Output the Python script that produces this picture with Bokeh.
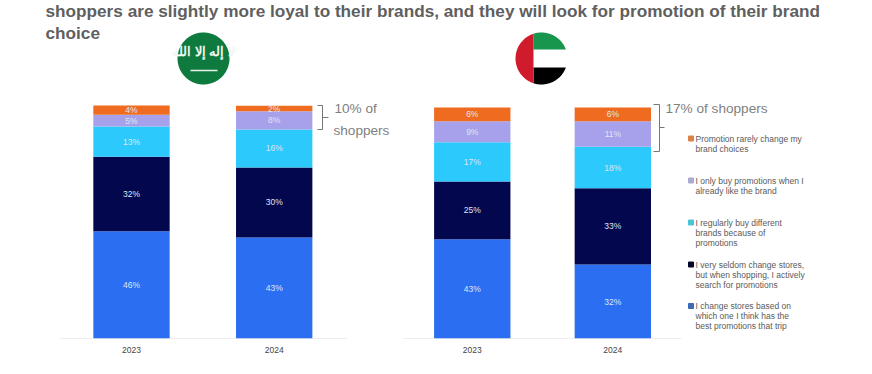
import numpy as np
from bokeh.core.properties import value
from bokeh.embed import file_html
from bokeh.models import ColumnDataSource, FixedTicker, Range1d
from bokeh.plotting import figure
from bokeh.resources import INLINE

# ---- data ----
years = ["2023", "2024"]
series_names = [
    "I change stores based on which one I think has the best promotions that trip",
    "I very seldom change stores, but when shopping, I actively search for promotions",
    "I regularly buy different brands because of promotions",
    "I only buy promotions when I already like the brand",
    "Promotion rarely change my brand choices",
]
sa_2023 = [46, 32, 13, 5, 4]
sa_2024 = [43.4, 30, 16.3, 7.8, 2.4]
uae_2023 = [43, 25, 17, 9, 6]
uae_2024 = [32, 33, 18, 11, 6]
sa_2023_labels = ["46%", "32%", "13%", "5%", "4%"]
sa_2024_labels = ["43%", "30%", "16%", "8%", "2%"]
uae_2023_labels = ["43%", "25%", "17%", "9%", "6%"]
uae_2024_labels = ["32%", "33%", "18%", "11%", "6%"]
colors = ["#2b6ef2", "#03074d", "#2cc9fc", "#a6a1ea", "#ee6b1f"]
swatch_colors = ["#3d6ab5", "#06062a", "#4cc4d8", "#ababd2", "#d9824a"]
title_lines = [
    "shoppers are slightly more loyal to their brands, and they will look for promotion of their brand",
    "choice",
]
legend_lines = [
    ["Promotion rarely change my", "brand choices"],
    ["I only buy promotions when I", "already like the brand"],
    ["I regularly buy different", "brands because of", "promotions"],
    ["I very seldom change stores,", "but when shopping, I actively", "search for promotions"],
    ["I change stores based on", "which one I think has the", "best promotions that trip"],
]

# ---- layout (reference pixels) ----
W, H = 872, 374
BASE = 338
UNIT = 142.7
X0 = 131
sa_slots = [0.0, 1.0]
uae_slots = [2.388, 3.373]
BAR = 0.535

p = figure(
    width=W, height=H, output_backend="svg", toolbar_location=None,
    x_range=Range1d(-X0 / UNIT, (W - X0) / UNIT),
    y_range=Range1d(0, BASE / 2.33),
    y_axis_location=None, min_border=0, min_border_bottom=H - BASE,
    min_border_left=0, min_border_right=0, min_border_top=0,
    outline_line_color=None, background_fill_color="white",
)
p.extra_y_ranges = {"uae": Range1d(0, BASE / 2.31), "py": Range1d(BASE, 0)}
p.extra_x_ranges = {"px": Range1d(0, W)}
p.grid.visible = False

FONT = value("Liberation Sans")


def stacked(slots, columns, labels_cols, y_name):
    rows = dict(x=[], bottom=[], top=[], color=[], label=[], mid=[])
    for slot, col, labs in zip(slots, columns, labels_cols):
        cum = np.cumsum([0] + list(col))
        for i in range(len(col)):
            rows["x"].append(slot)
            rows["bottom"].append(cum[i])
            rows["top"].append(cum[i + 1])
            rows["color"].append(colors[i])
            rows["label"].append(labs[i])
            rows["mid"].append((cum[i] + cum[i + 1]) / 2)
    src = ColumnDataSource(rows)
    p.vbar(x="x", bottom="bottom", top="top", width=BAR, fill_color="color",
           line_color=None, source=src, y_range_name=y_name)
    p.text(x="x", y="mid", text="label", source=src, y_range_name=y_name,
           text_color="#dfe6f5", text_font=FONT, text_font_size="8.5px",
           text_align="center", text_baseline="middle")


# axis baselines
p.segment(x0=[sa_slots[0] - 0.5, uae_slots[0] - 0.485], x1=[sa_slots[1] + 0.51, uae_slots[1] + 0.48],
          y0=[0, 0], y1=[0, 0], line_color="#dcdcdc", line_width=1)

stacked(sa_slots, [sa_2023, sa_2024], [sa_2023_labels, sa_2024_labels], "default")
stacked(uae_slots, [uae_2023, uae_2024], [uae_2023_labels, uae_2024_labels], "uae")

# x axis with the year labels
ax = p.xaxis[0]
ax.ticker = FixedTicker(ticks=sa_slots + uae_slots)
ax.major_label_overrides = {t: y for t, y in zip(sa_slots + uae_slots, years + years)}
ax.axis_line_color = None
ax.major_tick_line_color = None
ax.minor_tick_line_color = None
ax.major_label_standoff = 2
ax.major_label_text_font = "Liberation Sans"
ax.major_label_text_font_size = "8.5px"
ax.major_label_text_color = "#444444"


def txt(x, y, s, size, color, bold=False, align="left"):
    p.text(x=[x], y=[y], text=[s], x_range_name="px", y_range_name="py",
           text_font=FONT, text_font_size=size, text_color=color,
           text_font_style="bold" if bold else "normal",
           text_align=align, text_baseline="middle")


# title
txt(45, 10, title_lines[0], "17.2px", "#5f5f5f", bold=True)
txt(45, 32, title_lines[1], "17.2px", "#5f5f5f", bold=True)

# callouts and brackets
p.multi_line(xs=[[317, 322, 322, 317], [322, 328], [653, 659, 659, 653], [659, 664]],
             ys=[[105, 105, 129, 129], [117, 117], [104, 104, 151, 151], [127, 127]],
             x_range_name="px", y_range_name="py", line_color="#777777", line_width=1)
txt(334, 108, "10% of", "13.6px", "#808080")
txt(333, 130, "shoppers", "13.6px", "#808080")
txt(665, 108, "17% of shoppers", "13.6px", "#808080")

# legend
legend_y = [138, 180, 222, 264, 305.5]
for lines, y0, col in zip(legend_lines, legend_y, swatch_colors[::-1]):
    p.scatter(x=[690.5], y=[y0], marker="square", size=5, color=col,
              x_range_name="px", y_range_name="py")
    for j, line in enumerate(lines):
        txt(695, y0 + j * 10, line, "8.5px", "#5a5a5a")

# flags
t = np.linspace(0, 2 * np.pi, 160)


def clipped(cx, cy, r, xmin=-1e9, xmax=1e9, ymin=-1e9, ymax=1e9):
    xs = np.clip(cx + r * np.cos(t), xmin, xmax)
    ys = np.clip(cy + r * np.sin(t), ymin, ymax)
    return list(xs), list(ys)


def flag_part(color, **kw):
    xs, ys = clipped(**kw)
    p.patch(xs, ys, fill_color=color, line_color=None, x_range_name="px", y_range_name="py")


flag_part("#0f7a3e", cx=203, cy=58, r=26)
txt(203, 51, "لا إله إلا الله", "13px", "#f2f7f2", bold=True, align="center")
p.segment(x0=[190], x1=[217], y0=[70], y1=[70], line_color="#e8f2ea", line_width=1.5,
          x_range_name="px", y_range_name="py")

flag_part("#18964e", cx=541, cy=58, r=26, xmin=533, ymax=49)
flag_part("#000000", cx=541, cy=58, r=26, xmin=533, ymin=67)
flag_part("#cf1b2b", cx=541, cy=58, r=26, xmax=533)

open("out.html", "w").write(file_html(p, INLINE))
